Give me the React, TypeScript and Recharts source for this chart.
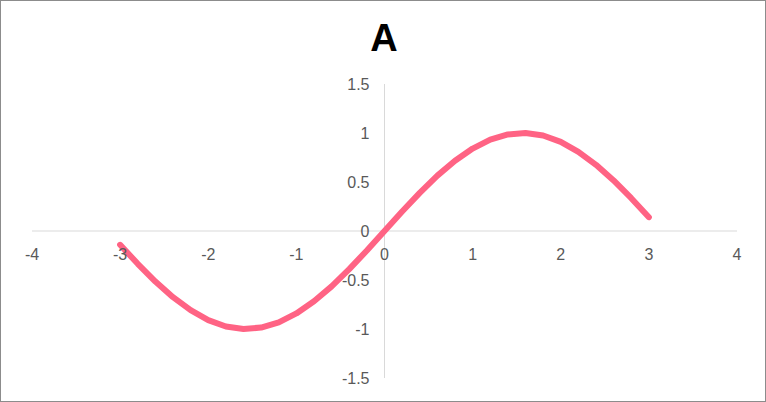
import React from "react";
import {
  LineChart,
  Line,
  XAxis,
  YAxis,
  ReferenceLine,
  ReferenceDot,
} from "recharts";

const xValues = [
  -3.0, -2.8, -2.6, -2.4, -2.2, -2.0, -1.8, -1.6, -1.4, -1.2, -1.0, -0.8, -0.6,
  -0.4, -0.2, 0, 0.2, 0.4, 0.6, 0.8, 1.0, 1.2, 1.4, 1.6, 1.8, 2.0, 2.2, 2.4,
  2.6, 2.8, 3.0,
];
const yValues = [
  -0.141, -0.335, -0.516, -0.675, -0.808, -0.909, -0.974, -1.0, -0.985, -0.932,
  -0.841, -0.717, -0.565, -0.389, -0.199, 0, 0.199, 0.389, 0.565, 0.717, 0.841,
  0.932, 0.985, 1.0, 0.974, 0.909, 0.808, 0.675, 0.516, 0.335, 0.141,
];
const xTicks = [-4, -3, -2, -1, 0, 1, 2, 3, 4];
const yTicks = [-1.5, -1, -0.5, 0, 0.5, 1, 1.5];

const rows = xValues.map((x, i) => ({ x, y: yValues[i] }));

const labelFont = {
  fontFamily: "'Liberation Sans', Arial, sans-serif",
  fontSize: 16,
  fill: "#595959",
};

export default function App() {
  return (
    <div
      style={{
        position: "fixed",
        top: 0,
        left: 0,
        width: 766,
        height: 402,
        boxSizing: "border-box",
        border: "1px solid #8c8c8c",
        background: "#fff",
      }}
    >
      <div
        style={{
          position: "absolute",
          top: 18,
          left: 0,
          width: 766,
          textAlign: "center",
          fontFamily: "'Liberation Sans', Arial, sans-serif",
          fontWeight: "bold",
          fontSize: 38,
          lineHeight: "38px",
          color: "#000",
        }}
      >
        A
      </div>
      <LineChart
        width={764}
        height={400}
        data={rows}
        margin={{ top: 83, right: 28, bottom: 23, left: 31 }}
        style={{ position: "absolute", top: 0, left: 0 }}
      >
        <XAxis
          type="number"
          dataKey="x"
          domain={[-4, 4]}
          ticks={xTicks}
          hide
        />
        <YAxis type="number" domain={[-1.5, 1.5]} ticks={yTicks} hide />
        <ReferenceLine y={0} stroke="#d9d9d9" strokeWidth={1} />
        <ReferenceLine x={0} stroke="#d9d9d9" strokeWidth={1} />
        {xTicks.map((t) => (
          <ReferenceDot
            key={`x${t}`}
            x={t}
            y={0}
            r={0}
            stroke="none"
            label={(p: any) => (
              <text
                x={p.viewBox.x}
                y={p.viewBox.y + 29}
                textAnchor="middle"
                {...labelFont}
              >
                {t}
              </text>
            )}
          />
        ))}
        {yTicks.map((t) => (
          <ReferenceDot
            key={`y${t}`}
            x={0}
            y={t}
            r={0}
            stroke="none"
            label={(p: any) => (
              <text
                x={p.viewBox.x - 15}
                y={p.viewBox.y + 6}
                textAnchor="end"
                {...labelFont}
              >
                {t}
              </text>
            )}
          />
        ))}
        <Line
          type="linear"
          dataKey="y"
          stroke="#ff6384"
          strokeWidth={6}
          strokeLinecap="round"
          strokeLinejoin="round"
          dot={false}
          isAnimationActive={false}
        />
      </LineChart>
    </div>
  );
}
